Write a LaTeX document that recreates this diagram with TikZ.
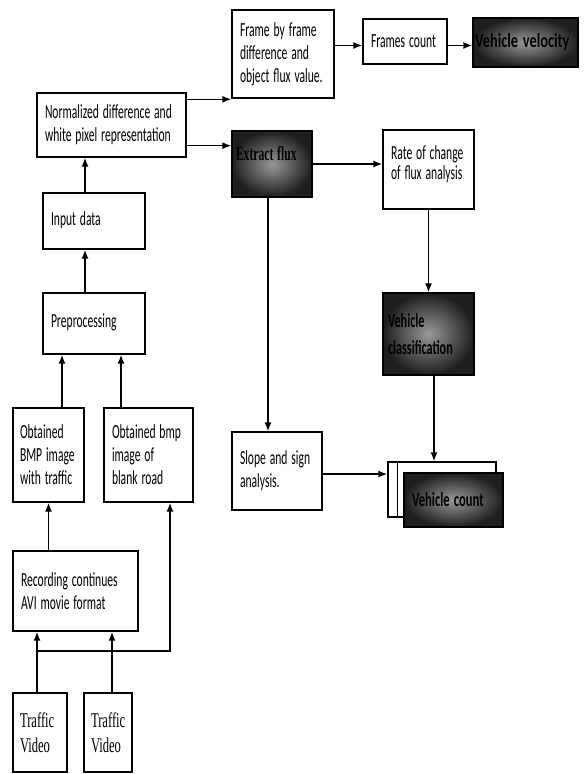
\documentclass[tikz,border=0pt]{standalone}
\usepackage{fontspec}
\usepackage{graphicx}
\setmainfont{Carlito}
\newfontfamily\serifc{Liberation Serif}
\newcommand{\cz}[2][0.58]{\scalebox{#1}[1]{#2}}
\usetikzlibrary{arrows.meta,calc,shadings}
\begin{document}
\begin{tikzpicture}[x=1pt,y=-1pt,
  bx/.style={draw, line width=1.4pt, fill=white, inner xsep=8pt, inner ysep=0pt, align=left, font=\fontsize{20}{23}\selectfont},
  dk/.style={bx, shading=radial, inner color=black!40, outer color=black!88},
  arr/.style={line width=1.4pt, -{Latex[length=9pt,width=7pt]}},
  ln/.style={line width=1.4pt}]
\useasboundingbox (0,0) rectangle (584,774);

\node[bx, minimum height=88pt, text width=86pt, inner xsep=8pt] (ff) at (283,54) {\cz{Frame by frame}\\\cz{difference and}\\\cz{object flux value.}};
\node[bx, minimum height=45pt, text width=68pt] (fc) at (405,41.5) {\cz{Frames count}};
\node[dk, minimum height=49pt, text width=101pt, inner xsep=2pt] (vv) at (525.5,42.5) {\cz[0.72]{\bfseries Vehicle velocity}};
\node[bx, minimum height=64pt, text width=133pt] (nd) at (111.5,125) {\cz{Normalized difference and}\\\cz{white pixel representation}};
\node[dk, minimum height=66pt, text width=72pt, inner xsep=4pt] (ef) at (272,164) {\raisebox{22pt}{\cz{\serifc\bfseries Extract flux}}};
\node[bx, minimum height=79pt, text width=75pt] (rc) at (428.5,169.5) {\raisebox{14pt}{\shortstack[l]{\cz{Rate of change}\\\cz{of flux analysis}}}};
\node[dk, minimum height=82pt, text width=81pt, inner xsep=5pt, font=\fontsize{20}{27}\selectfont] (vc) at (428.5,334) {\cz[0.61]{\bfseries Vehicle}\\\cz[0.61]{\bfseries classification}};
\node[bx, minimum height=56pt, text width=86pt] (id) at (94,221) {\raisebox{4pt}{\cz{Input data}}};
\node[bx, minimum height=61pt, text width=86pt] (pp) at (94,323.5) {\raisebox{6pt}{\cz{Preprocessing}}};
\node[bx, minimum height=94pt, text width=57pt, inner xsep=7pt] (ob) at (48.5,455) {\cz{Obtained}\\\cz{BMP image}\\\cz{with traffic}};
\node[bx, minimum height=94pt, text width=73pt] (obr) at (148.5,455) {\cz{Obtained bmp}\\\cz{image of}\\\cz{blank road}};
\node[bx, minimum height=80pt, text width=109pt] (rec) at (75.5,591) {\cz{Recording continues}\\\cz{AVI movie format}};
\node[bx, minimum height=79pt, text width=40pt, inner xsep=7pt, font=\serifc\fontsize{21}{25}\selectfont] (tv1) at (40,732.5) {\cz[0.6]{Traffic}\\\cz[0.6]{Video}};
\node[bx, minimum height=79pt, text width=34pt, inner xsep=7pt, font=\serifc\fontsize{21}{25}\selectfont] (tv2) at (108,732.5) {\cz[0.6]{Traffic}\\\cz[0.6]{Video}};
\node[bx, minimum height=78pt, text width=74pt] (sl) at (277,471) {\cz{Slope and sign}\\\cz{analysis.}};
\node[draw, line width=1.4pt, fill=white, minimum width=108pt, minimum height=55pt] (vcb) at (442,489.5) {};
\draw[ln] ([xshift=10pt]vcb.north west) -- ([xshift=10pt]vcb.south west);
\node[dk, minimum height=54pt, text width=83pt, inner xsep=8pt] (vcf) at (453.5,500) {\cz[0.63]{\bfseries Vehicle count}};

\coordinate (a1) at ([yshift=-7pt]nd.north east);
\draw[arr] (a1) -- (a1 -| ff.west);
\coordinate (a2) at ([yshift=12pt]nd.south east);
\draw[arr] (a2) -- (a2 -| ef.west);
\coordinate (a3) at ([yshift=-4pt]fc.west);
\draw[arr] (a3 -| ff.east) -- (a3);
\coordinate (a4) at ([yshift=-4pt]fc.east);
\draw[arr] (a4) -- (a4 -| vv.west);
\draw[arr] (ef.east) -- (ef.east -| rc.west);
\draw[arr] (rc.south) -- (vc.north);
\coordinate (a7) at ([xshift=-4pt]ef.south);
\draw[arr] (a7) -- (a7 |- sl.north);
\coordinate (a8) at ([xshift=5.5pt]vc.south);
\draw[arr] (a8) -- (a8 |- vcb.north);
\coordinate (a9) at ([yshift=-3pt]sl.east);
\draw[arr] (a9) -- (a9 -| vcb.west);
\coordinate (a10) at ([xshift=-9pt]id.north);
\draw[arr] (a10) -- (a10 |- nd.south);
\coordinate (a11) at ([xshift=-9pt]pp.north);
\draw[arr] (a11) -- (a11 |- id.south);
\coordinate (a12) at ([xshift=13.5pt]ob.north);
\draw[arr] (a12) -- (a12 |- pp.south);
\coordinate (a13) at ([xshift=-27.5pt]obr.north);
\draw[arr] (a13) -- (a13 |- pp.south);
\draw[arr] (ob.south |- rec.north) -- (ob.south);
\coordinate (a15) at ([xshift=-3pt]tv1.north);
\draw[arr] (a15) -- (a15 |- rec.south);
\coordinate (a16) at ([xshift=4pt]tv2.north);
\draw[arr] (a16) -- (a16 |- rec.south);
\coordinate (split) at (37,651);
\coordinate (a17) at ([xshift=21.5pt]obr.south);
\draw[arr] (split) -| (a17);
\end{tikzpicture}
\end{document}
